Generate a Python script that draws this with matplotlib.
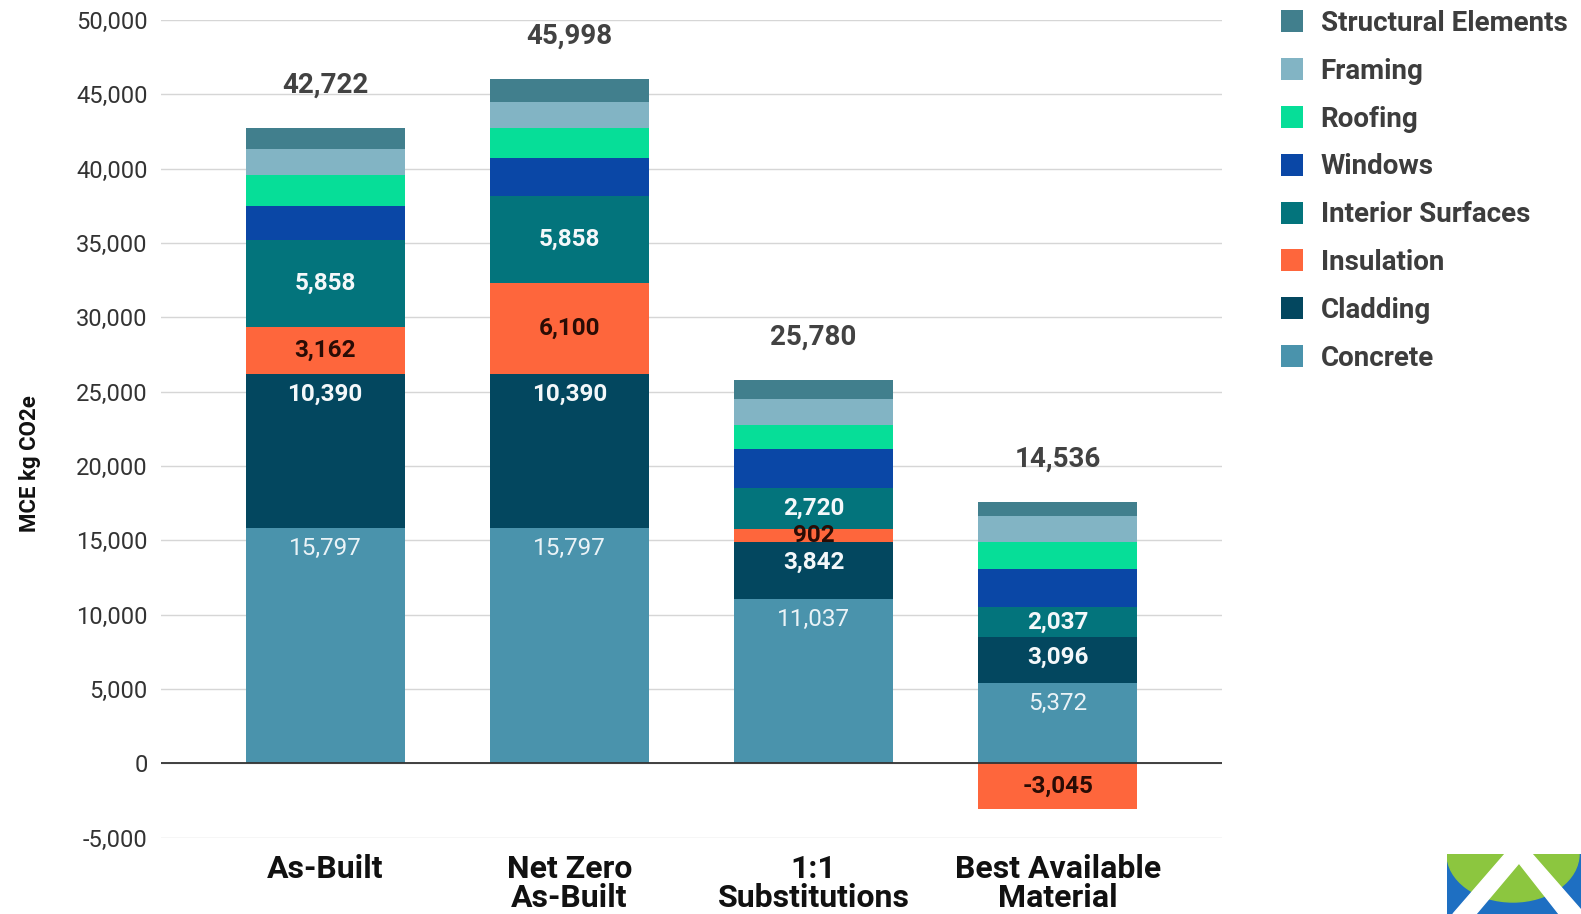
import matplotlib
matplotlib.use('Agg')
import matplotlib.pyplot as plt
from matplotlib.lines import Line2D
from matplotlib.patches import Rectangle, Ellipse, Polygon
import numpy as np

plt.rcParams['font.family'] = ['Roboto', 'DejaVu Sans']

categories = ['As-Built', 'Net Zero\nAs-Built', '1:1\nSubstitutions', 'Best Available\nMaterial']

# stack order bottom -> top
series_names = ['Concrete', 'Cladding', 'Insulation', 'Interior Surfaces',
                'Windows', 'Roofing', 'Framing', 'Structural Elements']
concrete = [15797, 15797, 11037, 5372]
cladding = [10390, 10390, 3842, 3096]
insulation = [3162, 6100, 902, -3045]
interior = [5858, 5858, 2720, 2037]
windows = [2280, 2580, 2640, 2596]
roofing = [2060, 2040, 1620, 1790]
framing = [1750, 1730, 1750, 1750]
structural = [1425, 1503, 1269, 940]

colors = {
    'Concrete': '#4a93ac',
    'Cladding': '#03475f',
    'Insulation': '#fe663c',
    'Interior Surfaces': '#03747c',
    'Windows': '#0a47a6',
    'Roofing': '#06de98',
    'Framing': '#82b4c4',
    'Structural Elements': '#417f8d',
}

data = [concrete, cladding, insulation, interior, windows, roofing, framing, structural]

W, H = 1581, 914
fig = plt.figure(figsize=(W / 100, H / 100), dpi=100)
ax = fig.add_axes([161 / W, (H - 837.6) / H, (1222 - 161) / W, (837.6 - 20) / H])

x = np.arange(len(categories))
bar_w = 0.65
pos_base = np.zeros(len(categories))
neg_base = np.zeros(len(categories))
bottoms = []
for name, vals in zip(series_names, data):
    vals = np.array(vals, dtype=float)
    base = np.where(vals >= 0, pos_base, neg_base)
    ax.bar(x, vals, bar_w, bottom=base, color=colors[name], zorder=3, linewidth=0)
    bottoms.append(base.copy())
    pos_base = pos_base + np.where(vals >= 0, vals, 0)
    neg_base = neg_base + np.where(vals < 0, vals, 0)

# segment labels
def seg_label(idx, mode, color, weight):
    vals = data[idx]
    for i, v in enumerate(vals):
        b = bottoms[idx][i]
        txt = f'{v:,}'
        if mode == 'top':
            ax.annotate(txt, (x[i], b + v), xytext=(0, -14.5), textcoords='offset points',
                        ha='center', va='center', fontsize=17.5, color=color,
                        fontweight=weight, zorder=5)
        else:
            ax.text(x[i], b + v / 2, txt, ha='center', va='center', fontsize=17.5,
                    color=color, fontweight=weight, zorder=5)

seg_label(0, 'top', '#eaf3f7', 'normal')
seg_label(1, 'top', '#f4f8fa', 'bold')
seg_label(2, 'center', '#2a0c05', 'bold')
seg_label(3, 'center', '#f4f8fa', 'bold')

# totals above each stack
totals = np.sum(np.array(data), axis=0)
for i, t in enumerate(totals):
    ax.annotate(f'{int(t):,}', (x[i], pos_base[i]), xytext=(0, 31), textcoords='offset points',
                ha='center', va='center', fontsize=20, fontweight='bold', color='#424242')

ax.set_xlim(-0.672, 3.672)
ax.set_ylim(-5000, 50000)
ax.set_yticks(np.arange(-5000, 50001, 5000))
ax.set_yticklabels([f'{v:,}' for v in range(-5000, 50001, 5000)])
ax.set_xticks(x)
ax.set_xticklabels(categories, fontsize=23, fontweight='bold', color='#111111', linespacing=0.95)
ax.tick_params(axis='x', length=0, pad=12)
ax.tick_params(axis='y', length=0, pad=9.5, labelsize=17, labelcolor='#333333')
ax.grid(axis='y', color='#d6d6d6', linewidth=1, zorder=0)
ax.axhline(0, color='#333333', linewidth=1.3, zorder=4)
for s in ax.spines.values():
    s.set_visible(False)

fig.text(30 / W, 1 - 464 / H, 'MCE kg CO2e', rotation=90, ha='center', va='center',
         fontsize=16, fontweight='bold', color='#111111')

# legend, top item first
handles = [Line2D([], [], marker='s', linestyle='none', markersize=16,
                  markerfacecolor=colors[n], markeredgewidth=0) for n in series_names[::-1]]
leg = fig.legend(handles, series_names[::-1], loc='upper left',
                 bbox_to_anchor=(1279 / W, 1 - 10 / H), frameon=False,
                 prop={'family': ['Roboto'], 'weight': 'bold', 'size': 20},
                 labelcolor='#3d3d3d', handlelength=0.9, handletextpad=0.6,
                 labelspacing=0.75, borderpad=0, borderaxespad=0)

# logo in the lower right corner
lax = fig.add_axes([1447 / W, 0, (W - 1447) / W, 60 / H])
lax.set_xlim(0, 134)
lax.set_ylim(0, 60)
lax.axis('off')
lax.add_patch(Rectangle((0, 0), 134, 60, color='#1e6fc2'))
lax.add_patch(Ellipse((66, 60), 132, 96, color='#8cc63f'))
lax.add_patch(Polygon([(6, 0), (58, 60), (85, 60), (134, 4), (134, 0), (112, 0),
                       (72, 51), (29, 0)], closed=True, color='white'))

fig.savefig('out.png', dpi=100)
